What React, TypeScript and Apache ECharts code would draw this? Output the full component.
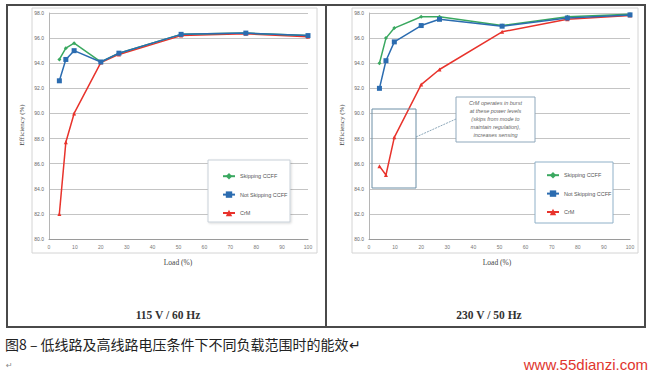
import React, { useEffect, useRef } from "react";
import * as echarts from "echarts";

const loads = [4, 6.5, 9.7, 20, 27, 51, 76, 100];
const low115Skipping = [94.3, 95.2, 95.6, 94.1, 94.8, 96.3, 96.4, 96.2];
const low115NotSkipping = [92.6, 94.3, 95.0, 94.1, 94.8, 96.3, 96.4, 96.2];
const low115CrM = [82.0, 87.7, 90.0, 94.05, 94.7, 96.2, 96.35, 96.1];
const high230Skipping = [94.0, 96.0, 96.8, 97.7, 97.7, 97.0, 97.7, 97.9];
const high230NotSkipping = [92.0, 94.2, 95.7, 97.0, 97.5, 96.95, 97.6, 97.85];
const high230CrM = [85.8, 85.1, 88.1, 92.3, 93.5, 96.5, 97.5, 97.8];

const seriesNames = ["Skipping CCFF", "Not Skipping CCFF", "CrM"];
const panelTitles = ["115 V / 60 Hz", "230 V / 50 Hz"];
const yTitle = "Efficiency (%)";
const xTitle = "Load (%)";
const caption = "图8 – 低线路及高线路电压条件下不同负载范围时的能效↵";
const site = "www.55dianzi.com";
const noteLines = [
  "CrM operates in burst",
  "at these power levels",
  "(skips from mode to",
  "maintain regulation),",
  "increases sensing",
];

const GREEN = "#3aa860";
const BLUE = "#2b6cb0";
const RED = "#e8332c";

export default function App() {
  const ref = useRef<HTMLDivElement>(null);
  useEffect(() => {
    const chart = echarts.init(ref.current!, null, { renderer: "svg", width: 650, height: 371 });
    const pair = (vals: number[]) => loads.map((l, i) => [l, vals[i]]);
    const grids = [
      { left: 49, top: 13, width: 259, height: 226 },
      { left: 369, top: 13, width: 261, height: 226 },
    ];
    const mkX = (gi: number) => ({
      type: "value", gridIndex: gi, min: 0, max: 100, interval: 10,
      axisLine: { show: true, lineStyle: { color: "#9a9a9a", width: 1 } },
      axisTick: { show: false },
      splitLine: { show: false },
      axisLabel: { fontSize: 5, color: "#777", margin: 5, fontFamily: "Liberation Sans" },
    });
    const mkY = (gi: number) => ({
      type: "value", gridIndex: gi, min: 80, max: 98, interval: 2,
      axisLine: { show: true, lineStyle: { color: "#b5b5b5", width: 1 } },
      axisTick: { show: false },
      splitLine: { show: true, lineStyle: { color: "#c4c4c4", width: 1 } },
      axisLabel: { fontSize: 5, color: "#666", margin: 5, fontFamily: "Liberation Sans", formatter: (v: number) => v.toFixed(1) },
    });
    const mkSeries = (gi: number, vals: number[][]) => [
      { name: seriesNames[0], type: "line", xAxisIndex: gi, yAxisIndex: gi, data: pair(vals[0]), symbol: "diamond", symbolSize: 4, z: 3, itemStyle: { color: GREEN }, lineStyle: { color: GREEN, width: 1.5 } },
      { name: seriesNames[2], type: "line", xAxisIndex: gi, yAxisIndex: gi, data: pair(vals[2]), symbol: "triangle", symbolSize: 4, z: 2, itemStyle: { color: RED }, lineStyle: { color: RED, width: 1.5 } },
      { name: seriesNames[1], type: "line", xAxisIndex: gi, yAxisIndex: gi, data: pair(vals[1]), symbol: "rect", symbolSize: 5, z: 4, itemStyle: { color: BLUE }, lineStyle: { color: BLUE, width: 1.5 } },
    ];
    const legendCommon = {
      orient: "vertical", itemWidth: 12, itemHeight: 8, itemGap: 12, z: 6,
      data: seriesNames,
      textStyle: { fontSize: 5.5, color: "#555", fontFamily: "Liberation Sans" },
    };
    const graphics: any[] = [
      { type: "rect", z: 0, shape: { x: 7, y: 5, width: 319, height: 322 }, style: { fill: "none", stroke: "#4a4a4a", lineWidth: 2 } },
      { type: "rect", z: 0, shape: { x: 326, y: 5, width: 319, height: 322 }, style: { fill: "none", stroke: "#4a4a4a", lineWidth: 2 } },
      { type: "rect", z: 0, shape: { x: 32, y: 8, width: 285, height: 245 }, style: { fill: "none", stroke: "#d4d4d4", lineWidth: 1 } },
      { type: "rect", z: 0, shape: { x: 352, y: 8, width: 286, height: 245 }, style: { fill: "none", stroke: "#d4d4d4", lineWidth: 1 } },
      // legend boxes
      { type: "rect", z: 5, shape: { x: 208, y: 160, width: 82, height: 62 }, style: { fill: "#fff", stroke: "#c8d0d8", lineWidth: 1, shadowBlur: 2, shadowColor: "rgba(0,0,0,0.15)", shadowOffsetX: 1, shadowOffsetY: 1 } },
      { type: "rect", z: 5, shape: { x: 535, y: 162, width: 78, height: 61 }, style: { fill: "#fff", stroke: "#8fb0c8", lineWidth: 1 } },
      // annotation
      { type: "rect", z: 5, shape: { x: 372, y: 109, width: 44, height: 79 }, style: { fill: "none", stroke: "#6d8fa6", lineWidth: 1 } },
      { type: "line", z: 5, shape: { x1: 416, y1: 137, x2: 456, y2: 119 }, style: { stroke: "#6d8fa6", lineWidth: 0.8, lineDash: [2, 1] } },
      { type: "rect", z: 5, shape: { x: 456, y: 97, width: 79, height: 45 }, style: { fill: "#fff", stroke: "#8fa8bc", lineWidth: 1 } },
      ...noteLines.map((t, i) => ({
        type: "text", z: 6, x: 495.5, y: 103 + i * 8,
        style: { text: t, fontSize: 5.5, fill: "#666", fontStyle: "italic", fontFamily: "Liberation Sans", align: "center", verticalAlign: "middle" },
      })),
      // axis titles
      ...[22, 342].map((x) => ({
        type: "text", z: 6, x, y: 125, rotation: Math.PI / 2,
        style: { text: yTitle, fontSize: 7, fill: "#444", fontFamily: "Liberation Serif", align: "center", verticalAlign: "middle" },
      })),
      ...[178, 497].map((x) => ({
        type: "text", z: 6, x, y: 262,
        style: { text: xTitle, fontSize: 7.5, fill: "#444", fontFamily: "Liberation Serif", align: "center", verticalAlign: "middle" },
      })),
      ...[168, 489].map((x, i) => ({
        type: "text", z: 6, x, y: 315,
        style: { text: panelTitles[i], fontSize: 11.5, fontWeight: "bold", fill: "#333", fontFamily: "Liberation Serif", align: "center", verticalAlign: "middle" },
      })),
      { type: "text", z: 6, x: 5, y: 344, style: { text: caption, fontSize: 14, fill: "#222", fontFamily: "Noto Sans CJK SC", align: "left", verticalAlign: "middle" } },
      { type: "text", z: 6, x: 6, y: 365, style: { text: "↵", fontSize: 8, fill: "#888", fontFamily: "DejaVu Sans", align: "left", verticalAlign: "middle" } },
      { type: "text", z: 6, x: 648, y: 364, style: { text: site, fontSize: 15, fill: "#e0352e", fontFamily: "Liberation Sans", align: "right", verticalAlign: "middle" } },
    ];
    chart.setOption({
      animation: false,
      backgroundColor: "#fff",
      grid: grids,
      xAxis: [mkX(0), mkX(1)],
      yAxis: [mkY(0), mkY(1)],
      legend: [
        { ...legendCommon, left: 217, top: 168 },
        { ...legendCommon, left: 541, top: 167 },
      ],
      series: [
        ...mkSeries(0, [low115Skipping, low115NotSkipping, low115CrM]),
        ...mkSeries(1, [high230Skipping, high230NotSkipping, high230CrM]),
      ],
      graphic: graphics,
    });
    return () => chart.dispose();
  }, []);
  return <div ref={ref} style={{ position: "absolute", left: 0, top: 0, width: 650, height: 371 }} />;
}
